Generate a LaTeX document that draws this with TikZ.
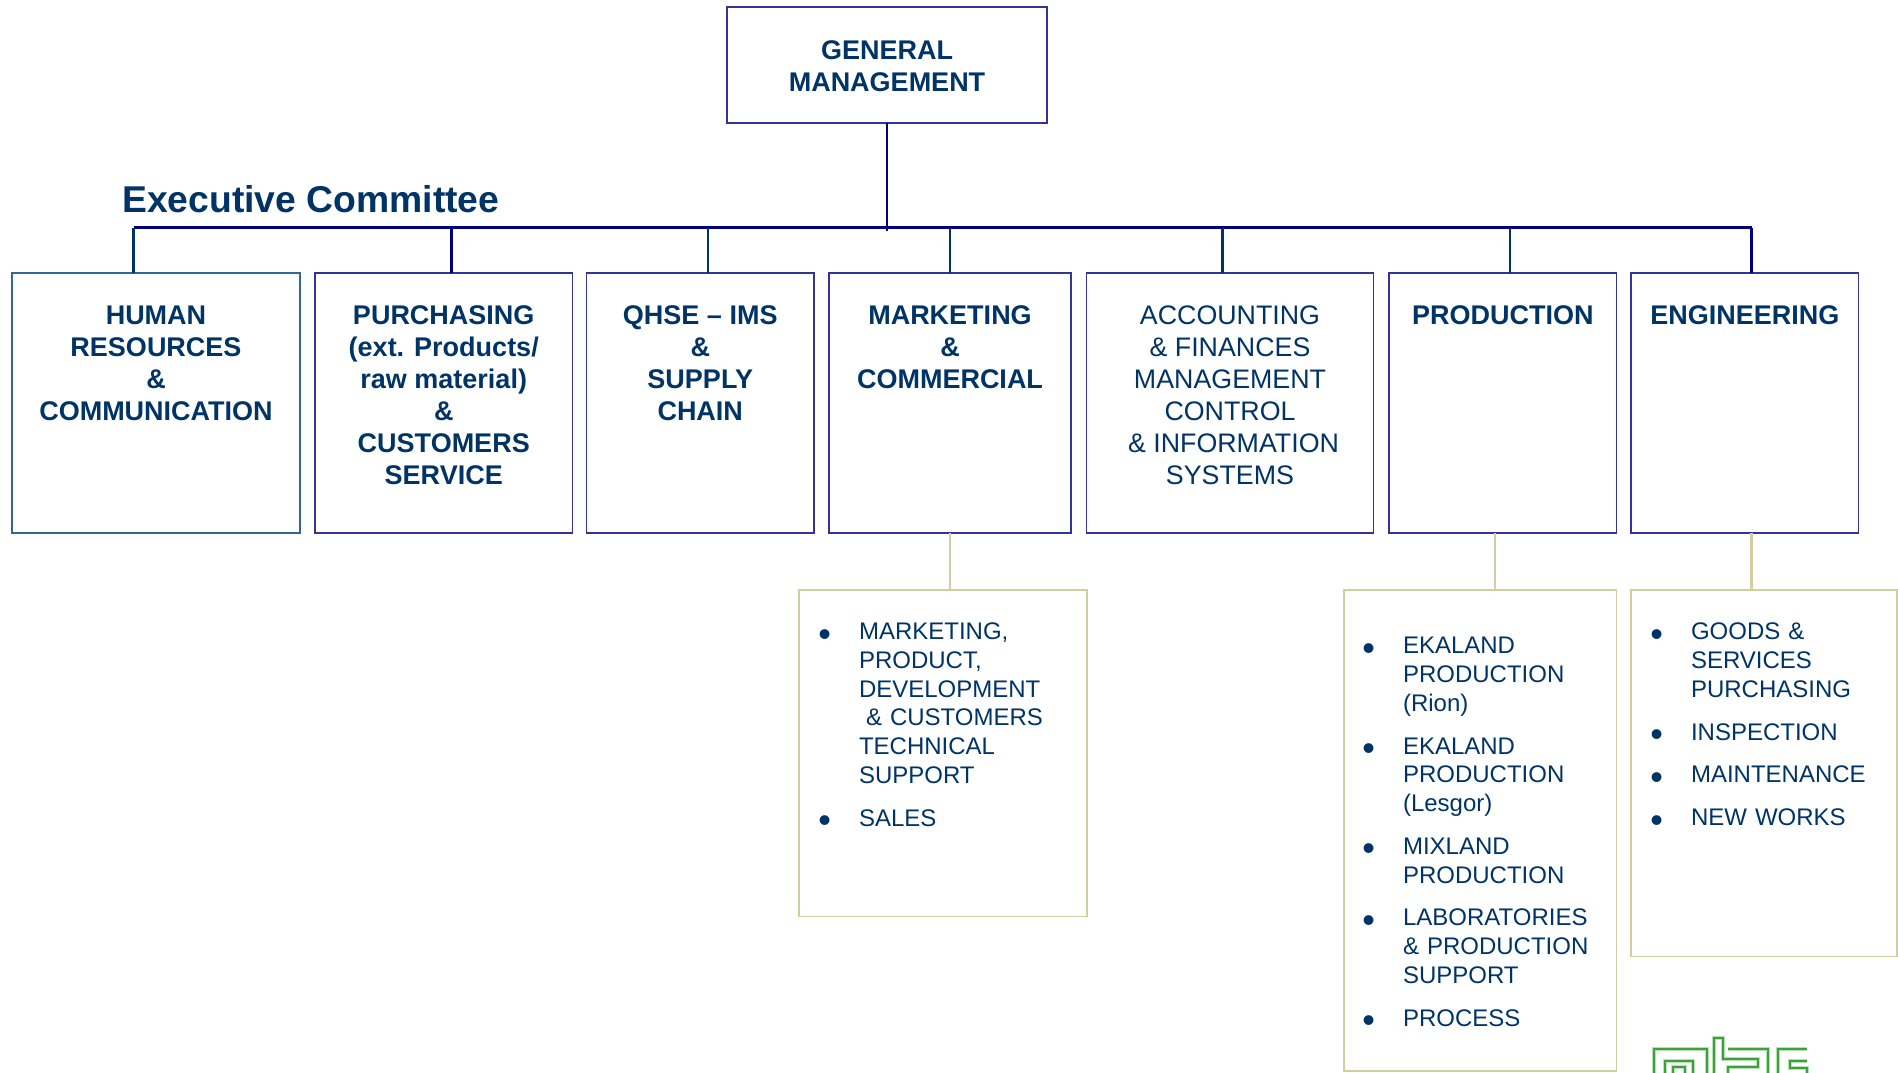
\documentclass[tikz,border=0pt]{standalone}
\usepackage{fontspec}
\setmainfont{Liberation Sans}
\usetikzlibrary{positioning}

\definecolor{titleblue}{HTML}{003366}
\definecolor{busblue}{HTML}{000080}
\definecolor{boxblue}{HTML}{333399}
\definecolor{hrblue}{HTML}{336699}
\definecolor{khaki}{HTML}{CFCF9F}
\definecolor{logogreen}{HTML}{3F9F3F}
\definecolor{logohalo}{HTML}{B4E4B4}

\newcommand{\bigdot}{\makebox[8.5pt][c]{\raisebox{-6.3pt}{\fontsize{36}{36}\selectfont\textbullet}}}
\newenvironment{deptitems}{\begin{list}{\bigdot}{%
	\setlength{\leftmargin}{38.5pt}\setlength{\labelwidth}{8.5pt}\setlength{\labelsep}{30pt}%
	\setlength{\itemsep}{14.2pt}\setlength{\parsep}{0pt}\setlength{\topsep}{0pt}\setlength{\partopsep}{0pt}}}{\end{list}}

\tikzset{
	deptbox/.style={draw=boxblue, line width=1.3pt, minimum height=260pt, inner sep=0pt, outer sep=0pt},
	subbox/.style={draw=khaki, line width=1.6pt, anchor=north west, inner sep=0pt, outer sep=0pt},
	depttext/.style={text=titleblue, align=center, inner sep=0pt, outer sep=0pt, font=\fontsize{26.8}{32}\selectfont},
	boldtext/.style={depttext, font=\fontsize{27}{32}\selectfont\bfseries},
	itemtext/.style={text=titleblue, align=left, text width=250pt, anchor=north west, inner sep=0pt, outer sep=0pt, font=\fontsize{24}{28.7}\selectfont},
	busline/.style={draw=busblue, line width=3pt},
	dropline/.style={draw=titleblue, line width=2.6pt},
	subline/.style={draw=khaki, line width=2.8pt},
	logoline/.style={line width=1.2pt, draw=logogreen, preaction={draw=logohalo, line width=4.5pt}},
}

\begin{document}
\begin{tikzpicture}[x=1pt, y=-1pt]
	\useasboundingbox (0,0) rectangle (1898,1073);

	% top box and title
	\node[deptbox, minimum width=320pt, minimum height=116pt] (gm) at (887,65) {};
	\node[boldtext, below=34pt of gm.north] (gmtext) {GENERAL\\MANAGEMENT};
	\node[anchor=base west, text=titleblue, inner sep=0pt, font=\fontsize{37.3}{44}\selectfont\bfseries] (committee) at (122,212) {Executive Committee};

	% department row
	\node[deptbox, minimum width=288pt, draw=hrblue] (hr) at (156,403) {};
	\node[deptbox, minimum width=257.5pt, right=15pt of hr] (purch) {};
	\node[deptbox, minimum width=227.5pt, right=14pt of purch] (qhse) {};
	\node[deptbox, minimum width=242pt, right=15pt of qhse] (mkt) {};
	\node[deptbox, minimum width=287pt, right=15.5pt of mkt] (acc) {};
	\node[deptbox, minimum width=227.5pt, right=15.5pt of acc] (prod) {};
	\node[deptbox, minimum width=227.5pt, right=14.5pt of prod] (eng) {};

	\node[boldtext, below=33pt of hr.north] (hrtext) {HUMAN\\RESOURCES\\\&\\COMMUNICATION};
	\node[boldtext, below=33pt of purch.north] (purchtext) {PURCHASING\\(ext. Products/\\raw material)\\\&\\CUSTOMERS\\SERVICE};
	\node[boldtext, below=33pt of qhse.north] (qhsetext) {QHSE – IMS\\\&\\SUPPLY\\CHAIN};
	\node[boldtext, below=33pt of mkt.north] (mkttext) {MARKETING\\\&\\COMMERCIAL};
	\node[depttext, below=33pt of acc.north] (acctext) {ACCOUNTING\\\& FINANCES\\MANAGEMENT\\CONTROL\\\hspace*{7pt}\& INFORMATION\\SYSTEMS};
	\node[boldtext, below=33pt of prod.north] (prodtext) {PRODUCTION};
	\node[boldtext, below=33pt of eng.north] (engtext) {ENGINEERING};

	% lists below
	\node[subbox, minimum width=288pt, minimum height=326.5pt] (mktsub) at (799,590) {};
	\node[subbox, minimum width=272.5pt, minimum height=481pt] (prodsub) at (1344,590) {};
	\node[subbox, minimum width=266pt, minimum height=366.5pt] (engsub) at (1631,590) {};

	\node[itemtext] (mktlist) at (820.5,611) {\begin{deptitems}
		\item MARKETING,\\PRODUCT,\\DEVELOPMENT\\\hspace*{7pt}\& CUSTOMERS\\TECHNICAL\\SUPPORT
		\item SALES
	\end{deptitems}};
	\node[itemtext] (prodlist) at (1364.5,625) {\begin{deptitems}
		\item EKALAND\\PRODUCTION\\(Rion)
		\item EKALAND\\PRODUCTION\\(Lesgor)
		\item MIXLAND\\PRODUCTION
		\item LABORATORIES\\\& PRODUCTION\\SUPPORT
		\item PROCESS
	\end{deptitems}};
	\node[itemtext] (englist) at (1652.5,611) {\begin{deptitems}
		\item GOODS \&\\SERVICES\\PURCHASING
		\item INSPECTION
		\item MAINTENANCE
		\item NEW WORKS
	\end{deptitems}};

	% bus and its drops
	\coordinate (busl) at (133.5,227.5);
	\coordinate (busr) at (1751.5,227.5);
	\coordinate (buspurch) at (451.5,227.5);
	\coordinate (busqhse) at (708,227.5);
	\coordinate (busacc) at (1222.5,227.5);
	\coordinate (busprod) at (1510,227.5);
	\coordinate (stemend) at (887,231);
	\draw[busline] (busl) -- (busr);
	\draw[busline, line width=2.6pt] (gm.south) -- (stemend);
	\draw[dropline] (busl) -- (busl |- hr.north);
	\draw[dropline, draw=busblue] (buspurch) -- (buspurch |- purch.north);
	\draw[dropline] (busqhse) -- (busqhse |- qhse.north);
	\draw[dropline] (mkt.north |- busl) -- (mkt.north);
	\draw[dropline] (busacc) -- (busacc |- acc.north);
	\draw[dropline] (busprod) -- (busprod |- prod.north);
	\draw[dropline, draw=busblue] (busr) -- (busr |- eng.north);

	% links to the lists
	\coordinate (prodlink) at (1495,533);
	\coordinate (englink) at (1751.5,533);
	\draw[subline] (mkt.south) -- (mkt.south |- mktsub.north);
	\draw[subline] (prodlink) -- (prodlink |- prodsub.north);
	\draw[subline] (englink) -- (englink |- engsub.north);

	% logo, runs off the page
	\begin{scope}
		\clip (1640,1025) rectangle (1830,1073);
		\draw[logoline] (1654,1075) |- (1707,1049) -- (1707,1075);
		\draw[logoline] (1665,1075) |- (1693,1061) -- (1693,1075);
		\draw[logoline] (1673,1075) |- (1685,1067) -- (1685,1075);
		\draw[logoline] (1714,1075) |- (1723,1038) |- (1758,1059) |- (1728,1067) -- (1728,1075);
		\draw[logoline] (1728,1049) -- (1768,1049) -- (1768,1075);
		\draw[logoline] (1807,1049) -| (1778,1075);
		\draw[logoline] (1807,1061) -| (1790,1068) -- (1807,1068) -- (1807,1075);
	\end{scope}
\end{tikzpicture}
\end{document}
